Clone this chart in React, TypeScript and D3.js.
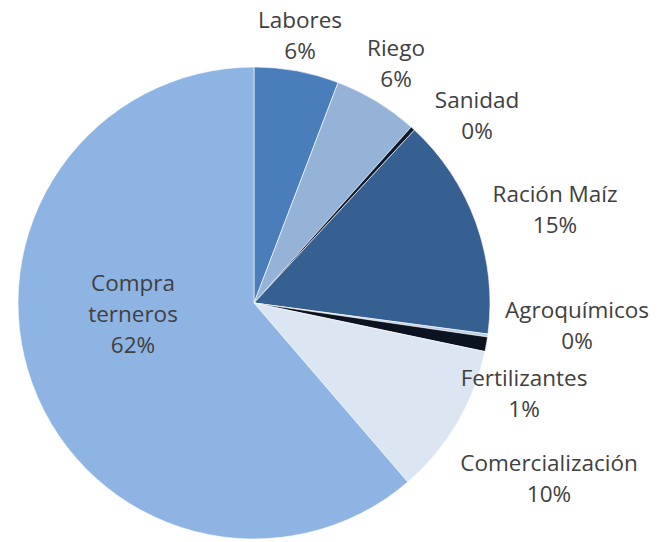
import React, { useEffect, useRef } from 'react';
import * as d3 from 'd3';

// slices clockwise from 12 o'clock
const categories = ['Labores', 'Riego', 'Sanidad', 'Ración Maíz', 'Agroquímicos', 'Fertilizantes', 'Comercialización', 'Compra terneros'];
const values = [5.8, 5.8, 0.3, 15.2, 0.2, 1.0, 10.4, 61.3];
const percentLabels = ['6%', '6%', '0%', '15%', '0%', '1%', '10%', '62%'];
const colors = ['#4A7EBB', '#95B3D7', '#0E1B2E', '#376092', '#B9CDE5', '#0B1220', '#DCE6F2', '#8EB4E3'];

// label text lines and their centre positions
const labelLines = [
  ['Labores'], ['Riego'], ['Sanidad'], ['Ración Maíz'], ['Agroquímicos'], ['Fertilizantes'], ['Comercialización'], ['Compra', 'terneros'],
];
const labelPos = [
  [300, 20], [396, 48], [477, 100], [555, 194], [577, 310], [524, 378], [549, 463], [133, 283],
];

interface Slice {
  name: string;
  value: number;
  idx: number;
}

const App: React.FC = () => {
  const svgRef = useRef<SVGSVGElement>(null);

  useEffect(() => {
    if (!svgRef.current) return;
    const svg = d3.select(svgRef.current);
    svg.selectAll("*").remove();

    const cx = 254;
    const cy = 303;
    const radius = 236;

    const data: Slice[] = categories.map((name, i) => ({ name, value: values[i], idx: i }));

    const pie = d3.pie<Slice>()
      .value(d => d.value)
      .sort(null);

    const arc = d3.arc<d3.PieArcDatum<Slice>>()
      .innerRadius(0)
      .outerRadius(radius);

    const g = svg.append("g")
      .attr("transform", `translate(${cx},${cy})`);

    g.selectAll("path")
      .data(pie(data))
      .enter()
      .append("path")
      .attr("d", arc)
      .attr("fill", d => colors[d.data.idx])
      .attr("stroke", "#ffffff")
      .attr("stroke-width", 0.6);

    const lineH = 31;
    data.forEach((d, i) => {
      const lines = [...labelLines[i], percentLabels[i]];
      const [x, y] = labelPos[i];
      const t = svg.append("text")
        .attr("text-anchor", "middle")
        .attr("font-family", "'Open Sans', Lato, sans-serif")
        .attr("font-size", 22.5)
        .attr("fill", "#404040");
      lines.forEach((ln, j) => {
        t.append("tspan")
          .attr("x", x)
          .attr("y", y + j * lineH)
          .attr("dy", "0.35em")
          .text(ln);
      });
    });
  }, []);

  return (
    <svg ref={svgRef} width={666} height={542} style={{ position: 'absolute', left: 0, top: 0 }}></svg>
  );
};

export default App;
